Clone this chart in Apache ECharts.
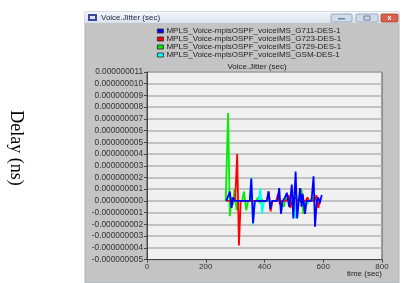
<!DOCTYPE html>
<html>
<head>
    <meta charset="utf-8" />
    <script src="https://cdn.jsdelivr.net/npm/echarts@6/dist/echarts.min.js"></script>
    <style>
        html, body { margin: 0; padding: 0; background: #fff; }
    </style>
</head>
<body>
    <div id="main" style="width: 404px;height: 283px;"></div>

    <script type="text/javascript">
        // values are in units of 1e-9 sec, x is time (sec)
        var seriesNames = [
            'MPLS_Voice-mplsOSPF_voiceIMS_G711-DES-1',
            'MPLS_Voice-mplsOSPF_voiceIMS_G723-DES-1',
            'MPLS_Voice-mplsOSPF_voiceIMS_G729-DES-1',
            'MPLS_Voice-mplsOSPF_voiceIMS_GSM-DES-1'
        ];
        var seriesColors = ['#0000ff', '#ff0000', '#00ee00', '#00ffff'];

        var g711 = [[270,0],[276,0],[282,0.8],[288,-0.6],[293,0.3],[298,0],[350,0],[355,1.9],[361,-1.9],[367,0],
            [408,0],[414,0.8],[420,-0.7],[426,0],[444,0],[450,1.1],[456,-1.1],[462,0],[470,0.3],[476,0.7],
            [484,-0.5],[488,0.2],[493,1.4],[498,-1.5],[506,2.5],[511,-1.5],[521,1.1],[526,-0.5],[530,0.6],
            [538,-1.1],[543,0],[560,0],[567,2.1],[572,-2.2],[578,0],[583,0.3],[588,-0.2],[595,0.5]];
        var g723 = [[270,0],[300,0],[307,4.0],[313,-3.8],[319,0],[408,0],[414,0.8],[421,-0.9],[427,0],[440,0],
            [446,0.6],[452,-0.3],[458,0],[476,0],[482,0.5],[488,-0.6],[494,0],[500,0],[506,0.3],[512,0],
            [540,0],[546,0.3],[552,0],[570,0],[577,0.5],[583,-0.6],[589,0]];
        var g729 = [[268,0],[276,7.5],[282,-1.3],[289,0.3],[293,-0.3],[298,1.0],[305,-0.8],[311,0],[324,0],
            [330,0.8],[338,-0.8],[344,0],[372,0],[378,0.3],[384,-0.2],[390,0.2],[396,-0.2],[402,0],[440,0],
            [446,0.3],[452,0],[466,-0.5],[472,0.2],[478,0],[520,0],[526,1.0],[532,-1.1],[538,0],[556,0],
            [562,0.3],[568,0],[588,0]];
        var gsm = [[270,0],[350,0],[355,2.0],[361,-2.0],[367,0],[380,0],[386,1.1],[392,-1.1],[398,0],[495,0],
            [500,0.8],[504,-1.5],[510,0.5],[516,0],[540,0],[546,-0.3],[552,0],[590,0]];

        var yMin = -5, yMax = 11, yStep = 1;
        var xMin = 0, xMax = 800, xStep = 200;

        var chartDom = document.getElementById('main');
        var myChart = echarts.init(chartDom);
        var option;

        var font = 'Liberation Sans';

        option = {
            animation: false,
            backgroundColor: '#ffffff',
            graphic: [
                // window body
                { type: 'rect', z: -10, shape: { x: 85, y: 12, width: 314, height: 271 },
                  style: { fill: '#c4c4c4', stroke: '#a9b4c2', lineWidth: 1 } },
                // title bar
                { type: 'rect', z: -9, shape: { x: 85, y: 12, width: 314, height: 11 },
                  style: { fill: new echarts.graphic.LinearGradient(0, 0, 0, 1, [
                      { offset: 0, color: '#f4f7fb' }, { offset: 1, color: '#d8e1ec' }]) } },
                { type: 'rect', z: -8, shape: { x: 88, y: 14, width: 9, height: 7 },
                  style: { fill: '#3b4a9c' } },
                { type: 'rect', z: -7, shape: { x: 90, y: 16, width: 5, height: 3 },
                  style: { fill: '#dde3f5' } },
                { type: 'text', z: -7, style: { x: 101, y: 18, text: 'Voice.Jitter (sec)',
                  font: '8px ' + font, fill: '#202840', textVerticalAlign: 'middle' } },
                // window buttons
                { type: 'rect', z: -8, shape: { x: 331, y: 14, width: 21, height: 8, r: 1 },
                  style: { fill: '#cfdbe9', stroke: '#8d9db3', lineWidth: 0.8 } },
                { type: 'rect', z: -8, shape: { x: 356, y: 14, width: 22, height: 8, r: 1 },
                  style: { fill: '#cfdbe9', stroke: '#8d9db3', lineWidth: 0.8 } },
                { type: 'rect', z: -8, shape: { x: 381, y: 14, width: 17, height: 8, r: 1 },
                  style: { fill: '#d9604a', stroke: '#a8402e', lineWidth: 0.8 } },
                { type: 'rect', z: -7, shape: { x: 338, y: 18, width: 7, height: 1.5 },
                  style: { fill: '#6d7f99' } },
                { type: 'rect', z: -7, shape: { x: 364, y: 16, width: 6, height: 4 },
                  style: { fill: 'none', stroke: '#6d7f99', lineWidth: 1 } },
                { type: 'text', z: -7, style: { x: 389.5, y: 18, text: 'x', font: 'bold 7px ' + font,
                  fill: '#ffffff', textAlign: 'center', textVerticalAlign: 'middle' } },
                // chart title
                { type: 'text', style: { x: 257, y: 67, text: 'Voice.Jitter (sec)', font: '8px ' + font,
                  fill: '#222', textAlign: 'center', textVerticalAlign: 'middle' } },
                // x axis name
                { type: 'text', style: { x: 382, y: 274, text: 'time (sec)', font: '8px ' + font,
                  fill: '#222', textAlign: 'right', textVerticalAlign: 'middle' } },
                // outer y label
                { type: 'text', x: 16, y: 148, rotation: -Math.PI / 2,
                  style: { x: 0, y: 0, text: 'Delay (ns)', font: '18px Liberation Serif',
                  fill: '#000', textAlign: 'center', textVerticalAlign: 'middle' } }
            ],
            legend: {
                orient: 'vertical',
                left: 157,
                top: 27,
                padding: 0,
                itemGap: 0,
                itemWidth: 6,
                itemHeight: 4,
                icon: 'rect',
                data: seriesNames,
                itemStyle: { borderColor: '#222', borderWidth: 0.8 },
                textStyle: { fontSize: 8, fontFamily: font, color: '#222', lineHeight: 7.2, padding: [0, 0, 0, -2] }
            },
            grid: {
                left: 147,
                top: 72,
                width: 235,
                height: 187.5,
                show: true,
                backgroundColor: '#f0f0f0',
                borderColor: '#555',
                borderWidth: 1
            },
            xAxis: {
                type: 'value',
                min: xMin,
                max: xMax,
                interval: xStep,
                axisLine: { onZero: false, lineStyle: { color: '#444', width: 1 } },
                axisTick: { show: true, length: 3, lineStyle: { color: '#444' } },
                axisLabel: { fontSize: 8, fontFamily: font, color: '#333', margin: 3 },
                splitLine: { show: false }
            },
            yAxis: {
                type: 'value',
                min: yMin,
                max: yMax,
                interval: yStep,
                axisLine: { show: true, lineStyle: { color: '#444', width: 1 } },
                axisTick: { show: true, length: 3, lineStyle: { color: '#444' } },
                axisLabel: {
                    fontSize: 8.3, fontFamily: font, color: '#333', margin: 4,
                    formatter: function (v) { return (v * 1e-9).toFixed(9); }
                },
                splitLine: { show: true, lineStyle: { color: '#b3b3b3', width: 1.5 } }
            },
            series: [
                { name: seriesNames[2], type: 'line', data: g729, showSymbol: false, color: seriesColors[2],
                  lineStyle: { width: 1.8 } },
                { name: seriesNames[3], type: 'line', data: gsm, showSymbol: false, color: seriesColors[3],
                  lineStyle: { width: 1.8 } },
                { name: seriesNames[1], type: 'line', data: g723, showSymbol: false, color: seriesColors[1],
                  lineStyle: { width: 1.8 } },
                { name: seriesNames[0], type: 'line', data: g711, showSymbol: false, color: seriesColors[0],
                  lineStyle: { width: 1.8 } }
            ]
        };

        option && myChart.setOption(option);
    </script>
</body>
</html>
